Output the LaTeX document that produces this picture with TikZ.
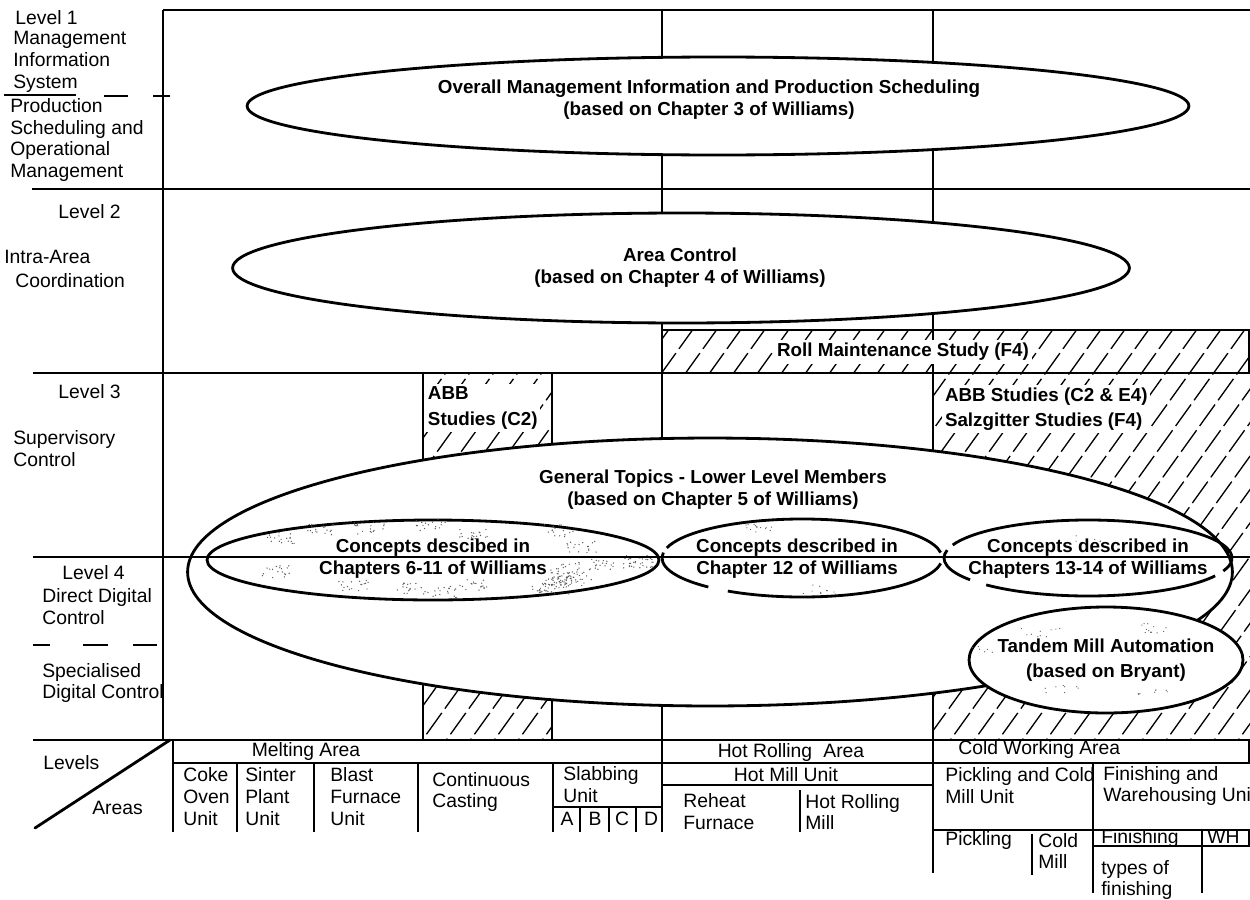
\documentclass[tikz,border=0pt]{standalone}
\usepackage{fontspec}
\setmainfont{Liberation Sans}
\usetikzlibrary{shapes.geometric}
\begin{document}
\begin{tikzpicture}[x=0.02cm,y=-0.02cm,
  txt/.style={font=\fontsize{11}{12.5}\selectfont, inner sep=0pt, align=left},
  btxt/.style={font=\fontsize{10.7}{12.5}\selectfont\bfseries, inner sep=0pt, align=center},
  oval/.style={ellipse, draw, line width=1.6pt, fill=white, inner sep=0pt},
  ovalline/.style={line width=1.6pt},
  rule/.style={line width=1.3pt},
  cell/.style={line width=1.15pt},
  hatching/.style={line width=0.75pt, dash pattern=on 15pt off 3pt},
  cutout/.style={fill=white, inner sep=2pt},
  stipple/.style={black!65}
]
\useasboundingbox (0,0) rectangle (1250,899);

% ---------- hatched study regions ----------
\begin{scope}
  \clip (662,330) rectangle (1250,373)
        (423,373) rectangle (552,740)
        (933,373) rectangle (1250,740);
  \foreach \k in {96,120,...,1260}
    \draw[hatching] (\k,760) -- ++(330,-460);
\end{scope}

% ---------- level / area grid ----------
\draw[rule] (163,10) -- (1250,10);
\draw[rule] (163,10) -- (163,740);
\draw[rule] (662,10) -- (662,740);
\draw[rule] (933,10) -- (933,740);
\draw[rule] (32,189) -- (1250,189);
\draw[rule] (33,373) -- (1250,373);
\draw[rule] (33,740) -- (1250,740);
\draw[rule] (662,330) rectangle (1249,373);
\draw[rule] (423,373) rectangle (552,740);
% dashed sub-level dividers
\draw[rule] (4,95) -- (76,95) (104,96) -- (128,96) (153,96) -- (170,96);
\draw[rule] (33,645) -- (50,645) (83,645) -- (108,645) (133,645) -- (157,645);

% ---------- ovals ----------
\node[oval, minimum width=18.84cm, minimum height=1.96cm] (mgmt) at (718,106) {};
\node[oval, minimum width=17.94cm, minimum height=2.2cm] (area) at (681,268) {};
\node[oval, minimum width=20.9cm, minimum height=5.36cm] (general) at (710,572) {};
\node[ellipse, draw, line width=1.6pt, inner sep=0pt, minimum width=9.04cm, minimum height=1.6cm] (ch6) at (433,560) {};
\coordinate (ch12) at (802,558);
\coordinate (ch13) at (1088,558);

% stippled shading of the chapters 6-11 oval
\pgfmathsetseed{11}
\foreach \c in {1,...,22}{
  \pgfmathsetmacro\ang{rnd*360}
  \pgfmathsetmacro\rad{0.6+0.32*rnd}
  \path (ch6) ++(\ang:{\rad*226} and {\rad*40}) coordinate (spot);
  \foreach \d in {1,...,18}
    \fill[stipple] (spot) ++({(rnd-0.5)*30},{(rnd-0.5)*12}) circle[radius=0.4pt];
}

% chapter 12 oval, drawn in broken arcs
\draw[ovalline] (ch12) ++(-8:140 and 39) arc[start angle=-8, end angle=-165, x radius=140, y radius=39];
\draw[ovalline] (ch12) ++(-172:140 and 39) arc[start angle=-172, end angle=-228, x radius=140, y radius=39];
\draw[ovalline] (ch12) ++(-238:140 and 39) arc[start angle=-238, end angle=-352, x radius=140, y radius=39];
% chapters 13-14 oval, drawn in broken arcs
\draw[ovalline] (ch13) ++(-10:144 and 38) arc[start angle=-10, end angle=-160, x radius=144, y radius=38];
\draw[ovalline] (ch13) ++(-168:144 and 38) arc[start angle=-168, end angle=-215, x radius=144, y radius=38];
\draw[ovalline] (ch13) ++(-225:144 and 38) arc[start angle=-225, end angle=-332, x radius=144, y radius=38];
\draw[ovalline] (ch13) ++(-340:144 and 38) arc[start angle=-340, end angle=-372, x radius=144, y radius=38];

\draw[rule] (33,557) -- (1250,557);

\node[oval, minimum width=5.48cm, minimum height=2.12cm] (tandem) at (1106,660) {};

% light stipple inside the other ovals
\foreach \cx/\cy/\n in {760/528/14, 820/590/10, 1160/628/12, 1040/633/10, 1060/690/8, 1150/692/8, 990/650/6, 1090/540/6}{
  \foreach \d in {1,...,\n}
    \fill[stipple] ({\cx+(rnd-0.5)*40},{\cy+(rnd-0.5)*10}) circle[radius=0.35pt];
}

% ---------- oval and study labels ----------
\node[btxt] (mgmtT) at (709,100) {Overall Management Information and Production Scheduling\\(based on Chapter 3 of Williams)};
\node[btxt] (areaT) at (680,268) {Area Control\\(based on Chapter 4 of Williams)};
\node[btxt, cutout] (rollT) at (903,352) {Roll Maintenance Study (F4)};
\node[btxt, cutout, align=left, anchor=west, inner sep=1.5pt] (abbT) at (425,408) {ABB\\[2.5pt]Studies (C2)};
\node[btxt, cutout, align=left, anchor=west, inner sep=1.5pt] (szT) at (942,409) {ABB Studies (C2 \& E4)\\[1.5pt]Salzgitter Studies (F4)};
\node[btxt] (genT) at (713,490) {General Topics - Lower Level Members\\(based on Chapter 5 of Williams)};
\node[btxt] (ch6T) at (433,559) {Concepts descibed in\\Chapters 6-11 of Williams};
\node[btxt] (ch12T) at (797,559) {Concepts described in\\Chapter 12 of Williams};
\node[btxt] (ch13T) at (1088,559) {Concepts described in\\Chapters 13-14 of Williams};
\node[btxt] (tandemT) at (1106,660) {Tandem Mill Automation\\[1.5pt](based on Bryant)};

% ---------- level headings ----------
\node[txt, anchor=west] (lv1) at (15,18) {Level 1};
\node[txt, anchor=west] (mis) at (13,62) {Management\\Information\\System};
\node[txt, anchor=west] (psom) at (10,140) {Production\\Scheduling and\\Operational\\Management};
\node[txt, anchor=west] (lv2) at (58,212) {Level 2};
\node[txt, anchor=west] (iaa) at (4,257) {Intra-Area};
\node[txt, anchor=west] (coo) at (15,281) {Coordination};
\node[txt, anchor=west] (lv3) at (58,392) {Level 3};
\node[txt, anchor=west] (sup) at (13,449) {Supervisory\\Control};
\node[txt, anchor=west] (lv4) at (62,573) {Level 4};
\node[txt, anchor=west] (ddc) at (42,607) {Direct Digital\\Control};
\node[txt, anchor=west] (sdc) at (42,683) {Specialised\\Digital Control};

% ---------- area table ----------
\draw[line width=1.6pt, line cap=round] (35,828) -- (170,740);
\node[txt, anchor=west] (levels) at (43,763) {Levels};
\node[txt, anchor=west] (areas) at (92,808) {Areas};

\draw[cell] (173,740) -- (173,832);
\draw[cell] (173,763) -- (1250,763);
\draw[cell] (237,763) -- (237,832) (314,763) -- (314,832) (418,763) -- (418,832)
            (553,763) -- (553,832) (662,740) -- (662,832);
\draw[cell] (553,807) -- (662,807);
\draw[cell] (580,807) -- (580,832) (609,807) -- (609,832) (636,807) -- (636,832);
\draw[cell] (662,785) -- (933,785);
\draw[cell] (800,790) -- (800,832);
\draw[cell] (933,740) -- (933,873);
\draw[cell] (1249,740) -- (1249,763);
\draw[cell] (1093,763) -- (1093,893);
\draw[cell] (933,830) -- (1250,830);
\draw[cell] (1093,846) -- (1250,846);
\draw[cell] (1032,834) -- (1032,875);
\draw[cell] (1202,830) -- (1202,893);
\draw[cell] (1249,830) -- (1249,846);

\node[txt] (melt) at (306,751) {Melting Area};
\node[txt, anchor=west] (coke) at (183,797) {Coke\\Oven\\Unit};
\node[txt, anchor=west] (sinter) at (245,797) {Sinter\\Plant\\Unit};
\node[txt, anchor=west] (blast) at (330,797) {Blast\\Furnace\\Unit};
\node[txt, anchor=west] (cast) at (432,792) {Continuous\\Casting};
\node[txt, anchor=west] (slab) at (563,785) {Slabbing\\Unit};
\node[txt] (sA) at (567,819) {A};
\node[txt] (sB) at (595,819) {B};
\node[txt] (sC) at (622,819) {C};
\node[txt] (sD) at (651,819) {D};
\node[txt] (hra) at (791,752) {Hot Rolling\hspace{0.3em} Area};
\node[txt] (hmu) at (786,775) {Hot Mill Unit};
\node[txt, anchor=west] (reheat) at (683,812) {Reheat\\Furnace};
\node[txt, anchor=west] (hrm) at (805,812) {Hot Rolling\\Mill};
\node[txt, anchor=west] (cwa) at (958,749) {Cold Working Area};
\node[txt, anchor=west] (pcmu) at (945,786) {Pickling and Cold\\Mill Unit};
\node[txt, anchor=west] (fwu) at (1103,786) {Finishing and\\Warehousing Unit};
\node[txt, anchor=west] (pick) at (945,840) {Pickling};
\node[txt, anchor=west] (cold) at (1038,851) {Cold\\Mill};
\node[txt, anchor=west] (fin) at (1101,838) {Finishing};
\node[txt, anchor=west] (wh) at (1207,837) {WH};
\node[txt, anchor=west] (tof) at (1101,880) {types of\\finishing};
\end{tikzpicture}
\end{document}
